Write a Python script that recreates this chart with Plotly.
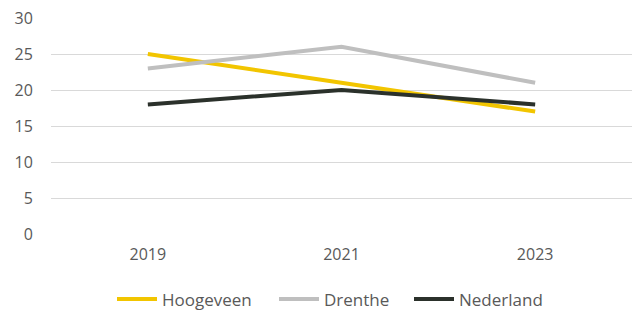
import plotly.graph_objects as go

years = ["2019", "2021", "2023"]
hoogeveen = [25, 21, 17]
drenthe = [23, 26, 21]
nederland = [18, 20, 18]
y_ticks = [0, 5, 10, 15, 20, 25, 30]

series = [("Hoogeveen", hoogeveen, "#F2C500", "legend", 112),
          ("Drenthe", drenthe, "#BFBFBF", "legend2", 274),
          ("Nederland", nederland, "#2B312B", "legend3", 409)]

L, R = 51, 1
W = 633 - L - R

fig = go.Figure()
legends = {}
for name, vals, col, lg, px in series:
    fig.add_trace(go.Scatter(x=years, y=vals, name=name, mode="lines",
                             line=dict(color=col, width=4), legend=lg))
    legends[lg] = dict(orientation="h", x=(px - L) / W, xanchor="left",
                       y=-0.22, yanchor="top", bgcolor="rgba(0,0,0,0)",
                       font=dict(size=17, color="#595959"), itemwidth=40)

fig.update_layout(
    width=633, height=312,
    margin=dict(l=L, r=R, t=18, b=78, autoexpand=False),
    paper_bgcolor="white", plot_bgcolor="white",
    font=dict(family="Open Sans, Liberation Sans, sans-serif", size=16, color="#595959"),
    showlegend=True,
    xaxis=dict(type="category", range=[-0.5, 2.5], showgrid=False, zeroline=False,
               showline=False, ticks="outside", ticklen=6, tickcolor="rgba(0,0,0,0)"),
    yaxis=dict(range=[0, 30], tickvals=y_ticks, showgrid=True, gridcolor="#D9D9D9",
               gridwidth=1, zeroline=False, ticks="outside", ticklen=14,
               tickcolor="rgba(0,0,0,0)"),
    **legends,
)
fig.write_html("out.html", config={"displayModeBar": False},
               post_script="document.body.style.margin='0';document.body.style.padding='0';")
